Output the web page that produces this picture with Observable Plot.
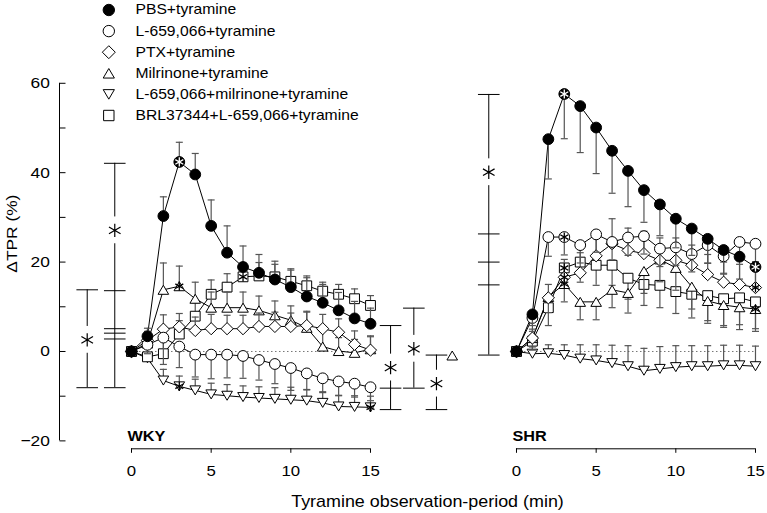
<!DOCTYPE html>
<html><head><meta charset="utf-8">
<script src="https://cdn.jsdelivr.net/npm/d3@7"></script>
<script src="https://cdn.jsdelivr.net/npm/@observablehq/plot@0.6"></script>
<style>body{margin:0;background:#fff}#chart{width:767px;height:513px}</style>
</head><body><div id="chart"></div>
<script>
// ---------- data ----------
const minutes = d3.range(0, 16);
const panels = ["WKY", "SHR"];
const seriesNames = ["PBS+tyramine", "L-659,066+tyramine", "PTX+tyramine", "Milrinone+tyramine", "L-659,066+milrinone+tyramine", "BRL37344+L-659,066+tyramine"];
const seriesKeys = ["pbs", "l659", "ptx", "mil", "l659mil", "brl"];

// WKY means (ΔTPR %)
const wkyPBS     = [0, 3.4, 30.3, 42.4, 39.6, 28.1, 22.1, 18.9, 17.6, 16.1, 14.4, 12.3, 10.9, 9.2, 7.4, 6.2];
const wkyL659    = [0, 1.5, 3.1, 1.1, -0.7, -0.7, -0.7, -1.0, -1.9, -2.8, -3.7, -4.9, -6.0, -6.7, -7.2, -8.0];
const wkyPTX     = [0, 2.5, 5.0, 5.5, 4.7, 5.1, 5.1, 5.1, 5.6, 5.6, 5.6, 5.8, 5.1, 4.3, 1.6, 0.3];
const wkyMil     = [0, 1.8, 13.8, 14.6, 11.8, 9.8, 9.8, 9.8, 9.2, 8.1, 7.0, 5.3, 1.1, 0.1, -0.3, 0.5];
const wkyL659Mil = [0, -1.5, -6.5, -7.8, -8.7, -9.6, -9.9, -10.2, -10.4, -10.6, -10.8, -11.0, -11.5, -12.3, -12.4, -12.5];
const wkyBRL     = [0, -1.2, -0.5, 3.9, 7.9, 12.8, 14.4, 16.7, 16.9, 16.7, 15.7, 14.7, 13.5, 12.8, 11.8, 10.3];
// WKY SEM
const wkyPBSse     = [0, 1.8, 4.3, 4.4, 4.7, 5.8, 6.0, 4.7, 4.1, 4.1, 4.1, 4.2, 4.1, 4.0, 3.8, 3.5];
const wkyL659se    = [0, 2.0, 6.0, 4.7, 5.0, 5.4, 5.2, 5.0, 4.5, 4.4, 5.0, 3.7, 3.2, 3.2, 3.0, 3.0];
const wkyPTXse     = [0, 2.0, 3.2, 3.0, 3.0, 3.2, 3.0, 3.0, 3.0, 3.2, 3.0, 3.2, 3.2, 3.0, 3.0, 3.0];
const wkyMilse     = [0, 2.0, 6.0, 4.5, 3.7, 3.5, 3.5, 3.5, 3.2, 3.2, 3.2, 3.5, 3.5, 3.0, 3.0, 3.0];
const wkyL659Milse = [0, 1.0, 2.5, 2.3, 2.5, 2.5, 2.5, 2.5, 2.5, 2.5, 2.8, 2.5, 2.5, 2.5, 2.5, 2.5];
const wkyBRLse     = [0, 2.0, 3.0, 3.0, 3.0, 3.2, 3.0, 3.2, 3.0, 2.8, 2.5, 2.2, 2.0, 2.2, 2.2, 2.2];

// SHR means (ΔTPR %)
const shrPBS     = [0, 8.3, 47.5, 57.6, 54.9, 50.1, 44.9, 40.4, 36.1, 32.9, 29.7, 27.5, 25.2, 22.7, 21.2, 18.9];
const shrL659    = [0, 7.5, 25.6, 25.6, 23.8, 26.2, 24.5, 25.5, 25.8, 23.0, 23.3, 21.8, 23.8, 21.3, 24.5, 24.1];
const shrPTX     = [0, 3.0, 12.0, 16.6, 17.6, 21.4, 24.1, 22.6, 21.9, 20.4, 20.4, 19.3, 17.2, 15.5, 15.0, 14.3];
const shrMil     = [0, 3.0, 12.2, 15.1, 11.1, 11.1, 13.8, 13.1, 18.0, 20.6, 18.7, 14.5, 11.3, 10.4, 9.9, 9.5];
const shrL659Mil = [0, -0.5, -0.4, -0.8, -1.6, -2.0, -2.6, -3.3, -4.3, -3.9, -3.5, -3.3, -3.3, -3.1, -3.1, -3.3];
const shrBRL     = [0, 2.3, 9.8, 18.7, 20.0, 19.3, 19.3, 16.4, 15.0, 14.8, 13.4, 12.8, 12.5, 11.8, 12.0, 11.1];
// SHR SEM
const shrPBSse     = [0, 2.5, 8.9, 10.0, 10.4, 10.3, 9.5, 8.0, 7.2, 7.0, 6.5, 6.0, 5.5, 5.2, 5.0, 4.5];
const shrL659se    = [0, 3.0, 4.3, 4.0, 4.0, 4.0, 4.0, 4.0, 4.0, 4.0, 4.0, 4.0, 4.0, 4.0, 4.0, 4.0];
const shrPTXse     = [0, 2.0, 3.0, 4.0, 4.5, 4.5, 5.6, 5.0, 5.0, 5.0, 5.0, 4.5, 4.5, 4.5, 4.5, 4.5];
const shrMilse     = [0, 2.0, 3.5, 4.0, 4.0, 4.0, 4.0, 4.5, 5.0, 5.0, 5.0, 5.0, 5.0, 5.0, 5.0, 5.0];
const shrL659Milse = [0, 2.0, 1.9, 2.3, 3.1, 3.5, 4.0, 4.6, 5.0, 5.0, 4.8, 4.6, 4.6, 4.5, 4.5, 4.5];
const shrBRLse     = [0, 2.0, 4.0, 4.5, 4.5, 4.5, 4.5, 4.7, 4.7, 5.0, 4.9, 5.3, 5.6, 6.0, 6.0, 6.0];

// error-bar direction (+1 up, -1 down) per series, per panel
const wkyBarDir = [1, -1, 1, 1, 1, 1];
const shrBarDir = [-1, -1, 1, -1, 1, -1];

// significance stars on data points [panel, seriesKey, minute]
const pointStars = [
  ["WKY","pbs",3],["WKY","mil",3],["WKY","brl",7],["WKY","l659mil",3],["WKY","l659mil",15],
  ["SHR","pbs",3],["SHR","pbs",15],["SHR","l659",3],["SHR","brl",3],["SHR","ptx",3],["SHR","mil",3],["SHR","ptx",15],["SHR","mil",15]
];

// layout of the shared minute axis: SHR panel starts at this offset
const SHR_OFFSET = 24.163;
const panelOffset = {WKY: 0, SHR: SHR_OFFSET};
const xTickMinutes = [0, 5, 10, 15];
const yTickLabels = [-20, 0, 20, 40, 60];
const yTickAll = [-20, -10, 0, 10, 20, 30, 40, 50, 60];

// significance brackets (values in ΔTPR %)
const bracketX      = [-2.78, -1.05, 16.26, 17.72, 19.14, SHR_OFFSET - 1.74];
const bracketTop    = [13.8, 42.1, 5.8, 9.7, -0.8, 57.5];
const bracketBottom = [-8.1, -8.1, -13.0, -8.2, -13.0, -0.8];
const bracketStar   = [2.6, 27.1, -3.6, 0.6, -7.2, 40.1];
const bracketTicks  = [[], [13.6, 5.1, 4.1, 2.8], [-8.2], [], [], [26.3, 20.0, 14.9]];
const sideMarker = {x: 20.13, v: -0.9};

// ---------- symbols ----------
const sym = f => ({draw(c, size) { f(c, Math.sqrt(size / Math.PI)); }});
const symSquare = sym((c, R) => { c.moveTo(-R, -R); c.lineTo(R, -R); c.lineTo(R, R); c.lineTo(-R, R); c.closePath(); });
const symDiamond = sym((c, R) => { const a = R * 1.22; c.moveTo(0, -a); c.lineTo(a, 0); c.lineTo(0, a); c.lineTo(-a, 0); c.closePath(); });
const symTriUp = sym((c, R) => { const h = R * 0.85; c.moveTo(0, -h); c.lineTo(R, h); c.lineTo(-R, h); c.closePath(); });
const symTriDown = sym((c, R) => { const h = R * 0.85; c.moveTo(0, h); c.lineTo(R, -h); c.lineTo(-R, -h); c.closePath(); });
const symCircle = sym((c, R) => { c.moveTo(R, 0); c.arc(0, 0, R, 0, 2 * Math.PI); c.closePath(); });
const symStar = sym((c, R) => { for (const a of [90, 30, 150]) { const r = a * Math.PI / 180, cx = R * Math.cos(r), cy = R * Math.sin(r); c.moveTo(cx, cy); c.lineTo(-cx, -cy); } });
const symHBar = sym((c, R) => { c.moveTo(-R, 0); c.lineTo(R, 0); });
const symTickR = sym((c, R) => { c.moveTo(0, 0); c.lineTo(R, 0); });

const seriesSymbol = [symCircle, symCircle, symDiamond, symTriUp, symTriDown, symSquare];
const seriesFill = ["black", "white", "white", "white", "white", "white"];
const seriesR = [5.4, 5.4, 5, 5.3, 5.3, 4.9];

// ---------- table ----------
const means = {WKY: [wkyPBS, wkyL659, wkyPTX, wkyMil, wkyL659Mil, wkyBRL], SHR: [shrPBS, shrL659, shrPTX, shrMil, shrL659Mil, shrBRL]};
const sems = {WKY: [wkyPBSse, wkyL659se, wkyPTXse, wkyMilse, wkyL659Milse, wkyBRLse], SHR: [shrPBSse, shrL659se, shrPTXse, shrMilse, shrL659Milse, shrBRLse]};
const dirs = {WKY: wkyBarDir, SHR: shrBarDir};
const rows = [];
for (const p of panels) seriesKeys.forEach((k, si) => minutes.forEach((t, i) => rows.push({
  panel: p, key: k, si, t, v: means[p][si][i], se: sems[p][si][i], dir: dirs[p][si]
})));
const X = d => d.t + panelOffset[d.panel];
const starRows = pointStars.map(([p, k, t]) => rows.find(d => d.panel === p && d.key === k && d.t === t));

const X_MIN = -4.519, X_MAX = 39.917, Y_MIN = -21.77, Y_MAX = 78.52;

const brackets = bracketX.map((x, i) => ({x, top: bracketTop[i], bottom: bracketBottom[i], star: bracketStar[i], ticks: bracketTicks[i]}));
const GAP = 3.0;
const bracketSegs = brackets.flatMap(b => [{x: b.x, y1: b.top, y2: b.star + GAP}, {x: b.x, y1: b.star - GAP, y2: b.bottom}]);
const bracketCaps = brackets.flatMap(b => [b.top, b.bottom, ...b.ticks].map(v => ({x: b.x, v})));

const legendY = i => 9.5 + 21.1 * i;
const barColor = "#555";

const marks = [
  // dotted zero lines
  Plot.ruleY(panels, {y: () => 0, x1: p => panelOffset[p], x2: p => panelOffset[p] + 15, stroke: "#777", strokeDasharray: "1.5,2.5", strokeWidth: 1}),
  // x axis lines + ticks
  Plot.ruleY(panels, {y: () => Y_MIN, x1: p => panelOffset[p], x2: p => panelOffset[p] + 15, stroke: "black", strokeWidth: 1}),
  Plot.axisX({ticks: panels.flatMap(p => xTickMinutes.map(t => t + panelOffset[p])), tickFormat: d => String(Math.round(d > 20 ? d - SHR_OFFSET : d)), tickSize: 4.5, tickPadding: 12.5, fontSize: 15, label: null}),
  // y axis
  Plot.ruleX([X_MIN], {y1: -20, y2: 60, stroke: "black", strokeWidth: 1}),
  Plot.dot(yTickAll, {x: () => X_MIN, y: d => d, symbol: symTickR, r: 6, stroke: "black", fill: "none", strokeWidth: 1}),
  Plot.axisY({ticks: yTickLabels, tickSize: 0, tickPadding: 9.7, fontSize: 15.5, label: null}),
  // brackets
  Plot.ruleX(bracketSegs, {x: "x", y1: "y1", y2: "y2", stroke: "black", strokeWidth: 1}),
  Plot.dot(bracketCaps, {x: "x", y: "v", symbol: symHBar, r: 10.8, stroke: "black", fill: "none", strokeWidth: 1}),
  Plot.dot(brackets, {x: "x", y: "star", symbol: symStar, r: 6.7, stroke: "black", fill: "none", strokeWidth: 1.2}),
  Plot.dot([sideMarker], {x: "x", y: "v", symbol: symTriUp, r: 5.3, stroke: "black", fill: "white", strokeWidth: 1}),
  // data lines
  Plot.line(rows, {x: X, y: "v", z: d => d.panel + d.key, stroke: "black", strokeWidth: 1}),
];
// series in drawing order: bars then markers
for (const si of [4, 5, 3, 2, 1, 0]) {
  const sub = rows.filter(d => d.si === si);
  const withBar = sub.filter(d => d.se > 0);
  marks.push(
    Plot.ruleX(withBar, {x: X, y1: "v", y2: d => d.v + d.dir * d.se, stroke: barColor, strokeWidth: 1.2}),
    Plot.dot(withBar, {x: X, y: d => d.v + d.dir * d.se, symbol: symHBar, r: 3.5, stroke: barColor, fill: "none", strokeWidth: 1.2}),
    Plot.dot(sub, {x: X, y: "v", symbol: seriesSymbol[si], r: seriesR[si], fill: seriesFill[si], stroke: "black", strokeWidth: 1})
  );
}
marks.push(
  Plot.dot(starRows, {x: X, y: "v", symbol: symStar, r: 4.6, stroke: d => d.key === "pbs" ? "white" : "black", fill: "none", strokeWidth: 1.3})
);
// legend
seriesNames.forEach((name, i) => {
  marks.push(
    Plot.dot([name], {frameAnchor: "top-left", dx: 49.3, dy: legendY(i), symbol: seriesSymbol[i], r: seriesR[i] + 0.3, fill: seriesFill[i], stroke: "black", strokeWidth: 1}),
    Plot.text([name], {frameAnchor: "top-left", dx: 76, dy: legendY(i), text: d => d, textAnchor: "start", lineAnchor: "middle", fontSize: 14, ariaLabel: "legend"})
  );
});
// texts
marks.push(
  Plot.text(panels, {x: p => panelOffset[p], text: p => p, frameAnchor: "bottom", textAnchor: "start", lineAnchor: "bottom", dx: -4, dy: -8.3, fontWeight: "bold", fontSize: 14.5}),
  Plot.text(["Tyramine observation-period (min)"], {frameAnchor: "bottom", text: d => d, dx: 14, dy: 52.7, fontSize: 16, lineAnchor: "middle"}),
  Plot.text(["ΔTPR (%)"], {frameAnchor: "left", text: d => d, rotate: -90, dx: -47, dy: 48, fontSize: 15.5, lineAnchor: "middle"})
);

const chart = Plot.plot({
  width: 767, height: 513,
  marginLeft: 59, marginRight: 0, marginTop: 0, marginBottom: 64.7,
  x: {domain: [X_MIN, X_MAX]},
  y: {domain: [Y_MIN, Y_MAX]},
  style: {fontFamily: "'Liberation Sans', Arial, sans-serif", fontSize: "15px", background: "white", color: "black"},
  marks
});
document.getElementById("chart").appendChild(chart);

// widen glyphs slightly along the text direction to match the reference typography
chart.querySelectorAll("text").forEach(t => {
  const inLegend = t.closest('[aria-label="legend"]');
  const sx = inLegend ? 1.2 : 1.12;
  const x = parseFloat(t.getAttribute("x")) || 0;
  const tr = t.getAttribute("transform") || "";
  t.setAttribute("transform", `${tr} translate(${x},0) scale(${sx},1) translate(${-x},0)`);
});
</script>
</body></html>
